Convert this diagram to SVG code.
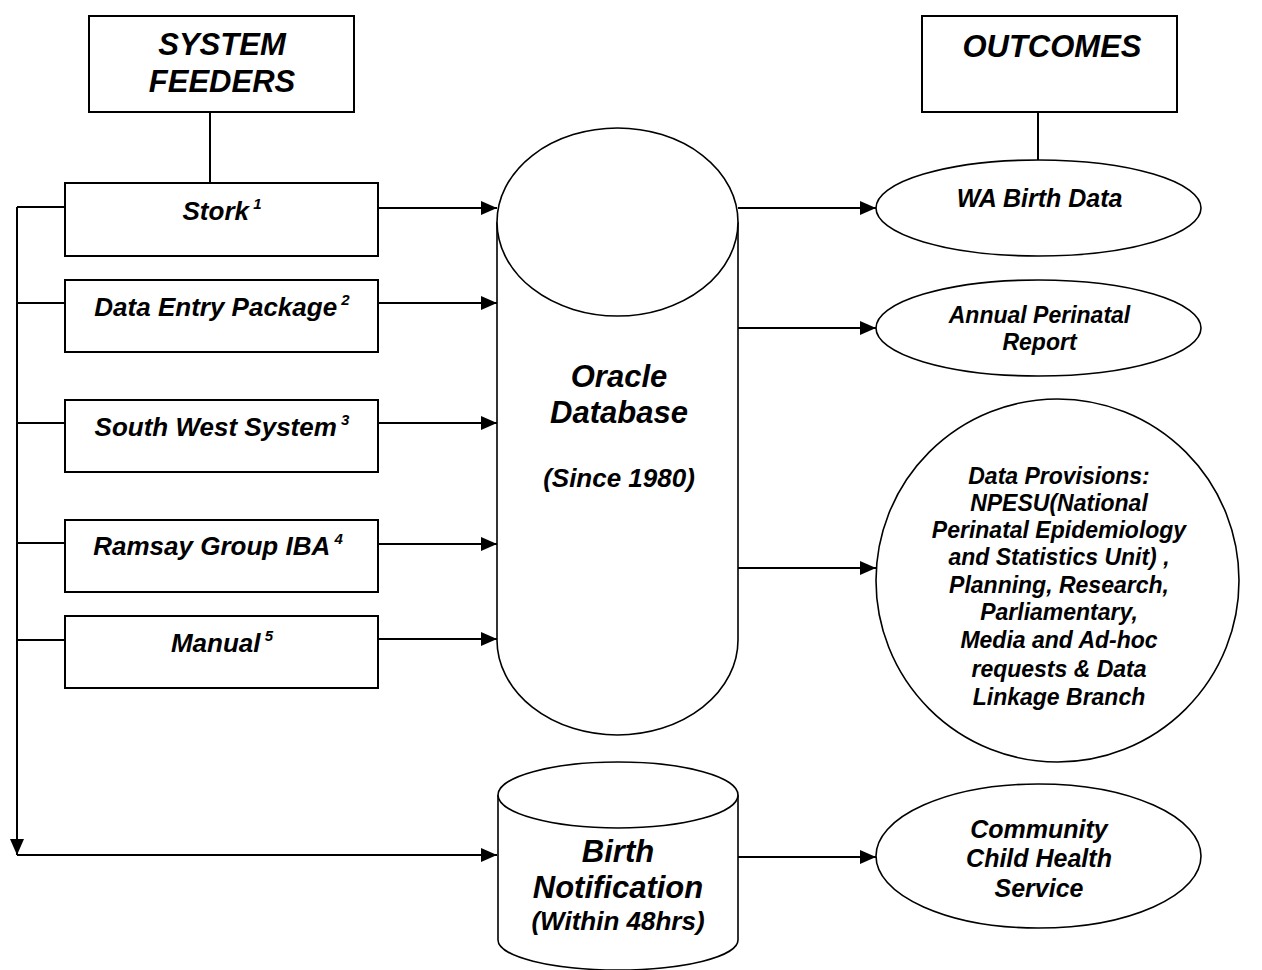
<svg xmlns="http://www.w3.org/2000/svg" width="1262" height="970" viewBox="0 0 1262 970">
<style>
.t{font-family:"Liberation Sans",Arial,sans-serif;font-weight:bold;font-style:italic;fill:#000;text-anchor:middle}
.box{fill:#fff;stroke:#000;stroke-width:2}
.shp{fill:#fff;stroke:#000;stroke-width:1.6}
.ln{fill:none;stroke:#000;stroke-width:2}
.sup{font-size:15px}
</style>
<defs>
<marker id="ah" markerUnits="userSpaceOnUse" markerWidth="16" markerHeight="14" refX="16" refY="7" orient="auto">
<path d="M0,0 L16,7 L0,14 z" fill="#000"/>
</marker>
</defs>
<rect width="1262" height="970" fill="#fff"/>
<g id="connectors">
<path class="ln" d="M210,112 V183"/>
<path class="ln" d="M1038,112 V160"/>
<path class="ln" d="M17,207 V855" marker-end="url(#ah)"/>
<path class="ln" d="M17,855 H497" marker-end="url(#ah)"/>
<path class="ln" d="M17,207 H65"/>
<path class="ln" d="M17,303 H65"/>
<path class="ln" d="M17,423 H65"/>
<path class="ln" d="M17,543 H65"/>
<path class="ln" d="M17,640 H65"/>
<path class="ln" d="M378,208 H497" marker-end="url(#ah)"/>
<path class="ln" d="M378,303 H497" marker-end="url(#ah)"/>
<path class="ln" d="M378,423 H497" marker-end="url(#ah)"/>
<path class="ln" d="M378,544 H497" marker-end="url(#ah)"/>
<path class="ln" d="M378,639 H497" marker-end="url(#ah)"/>
<path class="ln" d="M738,208 H876" marker-end="url(#ah)"/>
<path class="ln" d="M738,328 H876" marker-end="url(#ah)"/>
<path class="ln" d="M738,568 H876" marker-end="url(#ah)"/>
<path class="ln" d="M738,857 H876" marker-end="url(#ah)"/>
</g>
<g id="system-feeders">
<rect class="box" x="89" y="16" width="265" height="96"/>
<text class="t" x="222" y="55" font-size="31">SYSTEM</text>
<text class="t" x="222" y="92" font-size="31">FEEDERS</text>
</g>
<g id="outcomes">
<rect class="box" x="922" y="16" width="255" height="96"/>
<text class="t" x="1052" y="57" font-size="31">OUTCOMES</text>
</g>
<g id="stork">
<rect class="box" x="65" y="183" width="313" height="73"/>
<text class="t" x="222" y="220" font-size="26">Stork<tspan class="sup" dy="-11"> 1</tspan></text>
</g>
<g id="data-entry">
<rect class="box" x="65" y="280" width="313" height="72"/>
<text class="t" x="222" y="316" font-size="26">Data Entry Package<tspan class="sup" dy="-11"> 2</tspan></text>
</g>
<g id="south-west">
<rect class="box" x="65" y="400" width="313" height="72"/>
<text class="t" x="222" y="436" font-size="26">South West System<tspan class="sup" dy="-11"> 3</tspan></text>
</g>
<g id="ramsay">
<rect class="box" x="65" y="520" width="313" height="72"/>
<text class="t" x="218" y="555" font-size="26">Ramsay Group IBA<tspan class="sup" dy="-11"> 4</tspan></text>
</g>
<g id="manual">
<rect class="box" x="65" y="616" width="313" height="72"/>
<text class="t" x="222" y="652" font-size="26">Manual<tspan class="sup" dy="-11"> 5</tspan></text>
</g>
<g id="oracle">
<path class="shp" d="M497,222 V640 A120.5,95 0 0 0 738,640 V222"/>
<ellipse class="shp" cx="617.5" cy="222" rx="120.5" ry="94"/>
<text class="t" x="619" y="387" font-size="31">Oracle</text>
<text class="t" x="619" y="423" font-size="31">Database</text>
<text class="t" x="619" y="487" font-size="26">(Since 1980)</text>
</g>
<g id="birth-notification">
<path class="shp" d="M498,795 V940 A120,30 0 0 0 738,940 V795"/>
<ellipse class="shp" cx="618" cy="795" rx="120" ry="33"/>
<text class="t" x="618" y="862" font-size="31">Birth</text>
<text class="t" x="618" y="898" font-size="31">Notification</text>
<text class="t" x="618" y="930" font-size="26">(Within 48hrs)</text>
</g>
<g id="wa-birth-data">
<ellipse class="shp" cx="1038.5" cy="208" rx="162.5" ry="48"/>
<text class="t" x="1039.5" y="207" font-size="25">WA Birth Data</text>
</g>
<g id="annual-report">
<ellipse class="shp" cx="1038.5" cy="328" rx="162.5" ry="48"/>
<text class="t" x="1039.5" y="323" font-size="23">Annual Perinatal</text>
<text class="t" x="1039.5" y="350" font-size="23">Report</text>
</g>
<g id="data-provisions">
<circle class="shp" cx="1057.5" cy="580.5" r="181.5"/>
<g font-size="23">
<text class="t" x="1059" y="484">Data Provisions:</text>
<text class="t" x="1059" y="511">NPESU(National</text>
<text class="t" x="1059" y="538">Perinatal Epidemiology</text>
<text class="t" x="1059" y="565">and Statistics Unit) ,</text>
<text class="t" x="1059" y="593">Planning, Research,</text>
<text class="t" x="1059" y="620">Parliamentary,</text>
<text class="t" x="1059" y="648">Media and Ad-hoc</text>
<text class="t" x="1059" y="677">requests &amp; Data</text>
<text class="t" x="1059" y="705">Linkage Branch</text>
</g>
</g>
<g id="community">
<ellipse class="shp" cx="1038.5" cy="856" rx="162.5" ry="72"/>
<text class="t" x="1039" y="838" font-size="25">Community</text>
<text class="t" x="1039" y="867" font-size="25">Child Health</text>
<text class="t" x="1039" y="897" font-size="25">Service</text>
</g>
</svg>
